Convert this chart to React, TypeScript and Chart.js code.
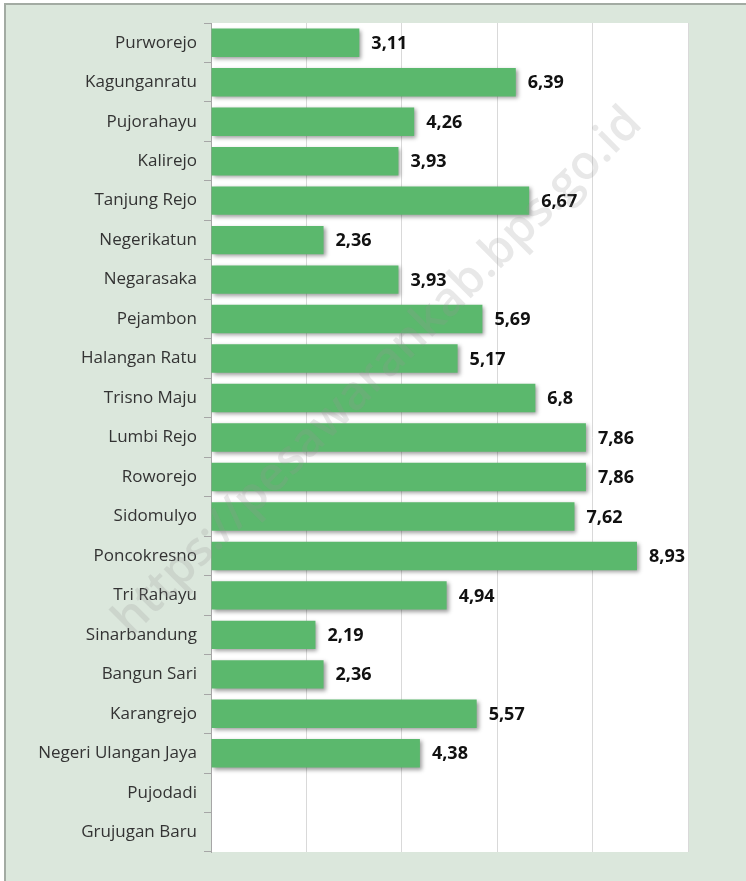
import React, { useEffect, useRef } from "react";
import { Chart, registerables } from "chart.js";

Chart.register(...registerables);

const categories = [
  "Purworejo",
  "Kagunganratu",
  "Pujorahayu",
  "Kalirejo",
  "Tanjung Rejo",
  "Negerikatun",
  "Negarasaka",
  "Pejambon",
  "Halangan Ratu",
  "Trisno Maju",
  "Lumbi Rejo",
  "Roworejo",
  "Sidomulyo",
  "Poncokresno",
  "Tri Rahayu",
  "Sinarbandung",
  "Bangun Sari",
  "Karangrejo",
  "Negeri Ulangan Jaya",
  "Pujodadi",
  "Grujugan Baru",
];

const values: (number | null)[] = [
  3.11, 6.39, 4.26, 3.93, 6.67, 2.36, 3.93, 5.69, 5.17, 6.8, 7.86, 7.86, 7.62,
  8.93, 4.94, 2.19, 2.36, 5.57, 4.38, null, null,
];

const xTicks = [0, 2, 4, 6, 8, 10];

const watermark = "https://pesawarankab.bps.go.id";

const W = 746;
const H = 881;

export default function App() {
  const ref = useRef<HTMLCanvasElement | null>(null);

  useEffect(() => {
    const canvas = ref.current;
    if (!canvas) return;

    const plotBg = {
      id: "plotBg",
      beforeDraw(chart: any) {
        const { ctx, chartArea } = chart;
        ctx.save();
        ctx.fillStyle = "#ffffff";
        ctx.fillRect(
          chartArea.left,
          chartArea.top,
          chartArea.right - chartArea.left,
          chartArea.bottom - chartArea.top
        );
        ctx.restore();
      },
    };

    const barShadow = {
      id: "barShadow",
      beforeDatasetDraw(chart: any) {
        const ctx = chart.ctx;
        ctx.save();
        ctx.shadowColor = "rgba(0,0,0,0.38)";
        ctx.shadowBlur = 4;
        ctx.shadowOffsetX = 2;
        ctx.shadowOffsetY = 2;
      },
      afterDatasetDraw(chart: any) {
        chart.ctx.restore();
      },
    };

    const valueLabels = {
      id: "valueLabels",
      afterDatasetsDraw(chart: any) {
        const ctx = chart.ctx;
        const meta = chart.getDatasetMeta(0);
        ctx.save();
        ctx.font = "bold 18px 'Open Sans', Lato, sans-serif";
        ctx.fillStyle = "#111111";
        ctx.textAlign = "left";
        ctx.textBaseline = "middle";
        meta.data.forEach((el: any, i: number) => {
          const v = values[i];
          if (v === null || v === undefined) return;
          const txt = String(v).replace(".", ",");
          ctx.fillText(txt, el.x + 12, el.y + 1);
        });
        ctx.restore();
      },
    };

    const wm = {
      id: "watermark",
      afterDraw(chart: any) {
        const ctx = chart.ctx;
        ctx.save();
        ctx.translate(378, 372);
        ctx.rotate(-Math.PI / 4);
        ctx.font = "600 40px 'Open Sans', sans-serif";
        const w = ctx.measureText(watermark).width;
        const size = (40 * 725) / w;
        ctx.font = `600 ${size}px 'Open Sans', sans-serif`;
        ctx.fillStyle = "rgba(150,150,150,0.22)";
        ctx.textAlign = "center";
        ctx.textBaseline = "middle";
        ctx.fillText(watermark, 0, 0);
        ctx.restore();
      },
    };

    const chart = new Chart(canvas, {
      type: "bar",
      data: {
        labels: categories,
        datasets: [
          {
            data: values as any,
            backgroundColor: "#5bb86d",
            borderWidth: 0,
            categoryPercentage: 1,
            barPercentage: 0.72,
          },
        ],
      },
      options: {
        indexAxis: "y",
        responsive: false,
        maintainAspectRatio: false,
        animation: false,
        devicePixelRatio: 1,
        layout: { padding: { left: 0, top: 23, right: 58, bottom: 29 } },
        plugins: {
          legend: { display: false },
          tooltip: { enabled: false },
          title: { display: false },
        },
        scales: {
          x: {
            min: 0,
            max: 10,
            afterBuildTicks(scale: any) {
              scale.ticks = xTicks.map((v) => ({ value: v }));
            },
            ticks: { display: false },
            grid: { color: "#d9d9d9", lineWidth: 1, drawTicks: false },
            border: { display: false },
            afterFit(scale: any) {
              scale.height = 0;
            },
          },
          y: {
            type: "category",
            offset: true,
            grid: {
              drawOnChartArea: false,
              drawTicks: true,
              tickLength: 7,
              color: "#a6a6a6",
              offset: true,
            },
            border: { display: true, color: "#a6a6a6", width: 1 },
            ticks: {
              color: "#333333",
              font: { family: "'Open Sans', Lato, sans-serif", size: 17 },
              padding: 7,
              autoSkip: false,
            },
            afterFit(scale: any) {
              scale.width = 211;
            },
          },
        },
      },
      plugins: [plotBg, barShadow, valueLabels, wm],
    });

    return () => chart.destroy();
  }, []);

  return (
    <div
      style={{
        position: "absolute",
        left: 0,
        top: 0,
        width: W,
        height: H,
        overflow: "hidden",
      }}
    >
      <div
        style={{
          position: "absolute",
          left: 4,
          top: 3,
          width: W + 20,
          height: H + 20,
          background: "#dbe7dc",
          borderTop: "2px solid #a3aba3",
          borderLeft: "2px solid #a3aba3",
        }}
      />
      <canvas
        ref={ref}
        width={W}
        height={H}
        style={{ position: "absolute", left: 0, top: 0, width: W, height: H }}
      />
    </div>
  );
}
